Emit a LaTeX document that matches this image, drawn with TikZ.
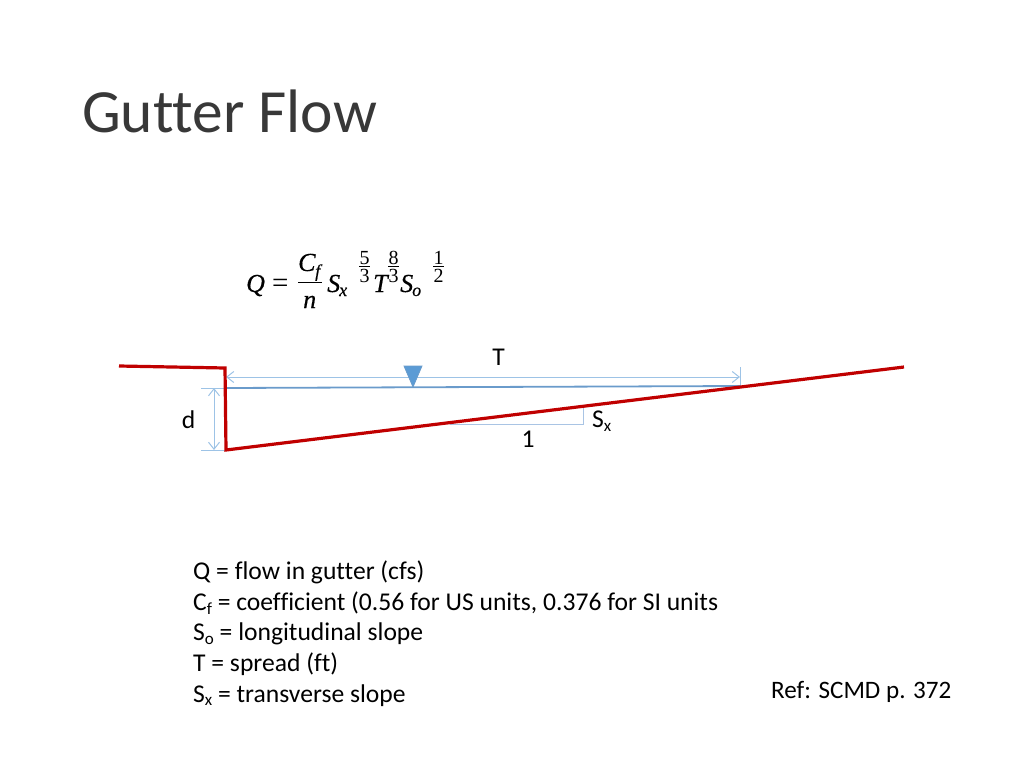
\RequirePackage{fix-cm}
\documentclass[tikz,border=0pt]{standalone}
\usepackage{fontspec}
\setmainfont{Carlito}[Ligatures=NoCommon]
\newfontface\eqit{Liberation Serif Italic}[FakeBold=0.4]
\newfontface\eqrm{Liberation Serif}
\usetikzlibrary{arrows.meta}
\definecolor{roadred}{HTML}{C00000}
\definecolor{waterblue}{HTML}{6A9BCB}
\definecolor{dimblue}{HTML}{9DC3E6}
\definecolor{trifill}{HTML}{5B9BD5}
\definecolor{trislope}{HTML}{A9C4E4}
\newcommand\mv[1]{{\eqit\fontsize{26}{28}\selectfont #1}}
\newcommand\msb[1]{{\eqit\fontsize{18}{20}\selectfont #1}}
\newcommand\dg[1]{\makebox[11pt][c]{\eqrm\fontsize{20}{22}\selectfont #1}}
% place a piece at an absolute offset (x,raise) from the start of the equation
\newcommand\pc[3]{\rlap{\hspace{#1pt}\raisebox{#2pt}{#3}}}
\newcommand\ex[3]{\pc{#1}{28}{\dg{#2}}\pc{#1}{25.6}{\rule{11pt}{0.9pt}}\pc{#1}{10}{\dg{#3}}}
\newcommand\subt[1]{\raisebox{-3.5pt}{\fontsize{17}{17}\selectfont #1}}
\tikzset{
  x=1pt,y=-1pt,
  redline/.style={draw=roadred,line width=3.2pt,line join=miter},
  water/.style={draw=waterblue,line width=1.8pt},
  dimline/.style={draw=dimblue,line width=1pt},
  dimarrow/.style={dimline,{Straight Barb[length=7pt,width=11pt]}-{Straight Barb[length=7pt,width=11pt]}},
  slopeline/.style={draw=trislope,line width=1pt},
  lbl/.style={inner sep=0pt,font=\fontsize{25.6}{28}\selectfont,text=black},
  bodyline/.style={inner sep=0pt,anchor=base west,font=\fontsize{25.6}{28}\selectfont,text=black}
}
\begin{document}
\begin{tikzpicture}
\useasboundingbox (0,0) rectangle (1024,768);
\node[inner sep=0pt,anchor=base west,font=\fontsize{61.4}{64}\selectfont,text=black!78] (title) at (82,132.5) {Gutter Flow};
\node[inner sep=0pt,anchor=base west] (eq) at (246,292)
  {\pc{0}{0}{\mv{Q}}%
   \pc{26}{0}{\eqrm\fontsize{29}{30}\selectfont =}%
   \pc{52}{21}{\mv{C}}\pc{69}{15}{\msb{f}}%
   \pc{52}{9}{\rule{24pt}{0.9pt}}%
   \pc{57}{-16}{\mv{n}}%
   \pc{81}{0}{\mv{S}}\pc{93}{-4}{\msb{x}}%
   \ex{113}{5}{3}%
   \pc{127}{0}{\mv{T}}%
   \ex{142}{8}{3}%
   \pc{154}{0}{\mv{S}}\pc{166}{-4}{\msb{o}}%
   \ex{187}{1}{2}%
   \phantom{\mv{Q}}};
% coordinates
\coordinate (curbL) at (119,366);
\coordinate (curbT) at (225,368);
\coordinate (curbB) at (226,450);
\coordinate (roadE) at (904,367);
\coordinate (waterL) at (226,388);
\coordinate (waterR) at (740,386);
\coordinate (tL) at (226,377);
\coordinate (tR) at (740,377);
\coordinate (tTick) at (740,367);
\coordinate (dT) at (214,388);
\coordinate (dB) at (214,450);
\coordinate (dTickT) at (201,388);
\coordinate (dTickB) at (201,450);
\coordinate (sA) at (583,406);
\coordinate (sB) at (583,424);
\coordinate (sC) at (450,424);
% dims
\draw[dimline] (tTick) -- (waterR);
\draw[dimarrow] (tL) -- (tR);
\draw[dimline] (dTickT) -- (waterL);
\draw[dimline] (dTickB) -- (curbB);
\draw[dimarrow] (dT) -- (dB);
\draw[slopeline] (sA) -- (sB) -- (sC);
% water
\draw[water] (waterL) -- (waterR);
\draw[draw=waterblue,fill=trifill,line width=0.8pt] (404,366) -- (422,366) -- (413,387) -- cycle;
% road
\draw[redline] (curbL) -- (curbT) -- (curbB) -- (roadE);
% labels
\node[lbl] (T) at (498.5,357) {T};
\node[lbl] (d) at (188.5,420) {d};
\node[lbl] (one) at (528,439) {1};
\node[lbl,anchor=base west] (sx) at (592,427.5) {S\subt{x}};
\node[bodyline] (l1) at (193,579.7) {Q = flow in gutter (cfs)};
\node[bodyline] (l2) at (193,610.5) {C\subt{f} = coefficient (0.56 for US units, 0.376 for SI units};
\node[bodyline] (l3) at (193,640.7) {S\subt{o} = longitudinal slope};
\node[bodyline] (l4) at (193,671.5) {T = spread (ft)};
\node[bodyline] (l5) at (193,702.3) {S\subt{x} = transverse slope};
\node[bodyline,font=\fontsize{25.1}{28}\selectfont] (ref) at (771,698.3) {Ref: SCMD p. 372};
\end{tikzpicture}
\end{document}
